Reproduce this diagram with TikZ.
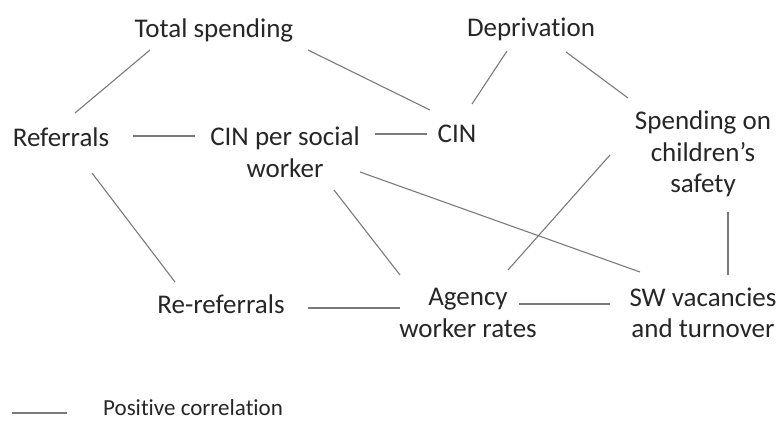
\documentclass[tikz,border=0pt]{standalone}
\usepackage{fontspec}
\setmainfont{Carlito}[Ligatures=NoCommon]
\definecolor{txt}{HTML}{262626}
\definecolor{ln}{HTML}{7A7A7A}
\begin{document}
\begin{tikzpicture}[x=1pt,y=-1pt,
  lbl/.style={inner sep=0pt,align=center,text=txt,font=\fontsize{27}{31.5}\selectfont},
  leglbl/.style={inner sep=0pt,text=txt,font=\fontsize{23}{28}\selectfont},
  conn/.style={draw=ln,line width=1.1pt}]
\useasboundingbox (0,0) rectangle (782,421);
\node[lbl] (ts) at (214,30) {Total spending};
\node[lbl] (dep) at (531,29) {Deprivation};
\node[lbl] (ref) at (61,137) {Referrals};
\node[lbl] (cps) at (285,152) {CIN per social\\worker};
\node[lbl] (cin) at (457,134) {CIN};
\node[lbl] (sp) at (703,154) {Spending on\\children’s\\safety};
\node[lbl] (reref) at (221,304) {Re-referrals};
\node[lbl] (ag) at (468,313) {Agency\\worker rates};
\node[lbl] (sw) at (703,313) {SW vacancies\\and turnover};
\node[leglbl,anchor=west] (leg) at (103,408) {Positive correlation};
\coordinate (lg1) at (12,413);
\coordinate (lg2) at (67,413);

\draw[conn] ([shift={(-64,20)}]ts.center) -- ([shift={(14,-24)}]ref.center);
\draw[conn] ([shift={(94,20)}]ts.center) -- ([shift={(-27,-24)}]cin.center);
\draw[conn] ([shift={(-24,22)}]dep.center) -- ([shift={(15,-30)}]cin.center);
\draw[conn] ([shift={(35,23)}]dep.center) -- ([shift={(-75,-56)}]sp.center);
\draw[conn] ([shift={(72,-1)}]ref.center) -- ([shift={(-90,-16)}]cps.center);
\draw[conn] ([shift={(90,-18)}]cps.center) -- ([shift={(-30,0)}]cin.center);
\draw[conn] ([shift={(31,36)}]ref.center) -- ([shift={(-46,-22)}]reref.center);
\draw[conn] ([shift={(49,38)}]cps.center) -- ([shift={(-68,-38)}]ag.center);
\draw[conn] ([shift={(75,20)}]cps.center) -- ([shift={(-63,-41)}]sw.center);
\draw[conn] ([shift={(-93,1)}]sp.center) -- ([shift={(40,-43)}]ag.center);
\draw[conn] ([shift={(25,58)}]sp.center) -- ([shift={(25,-38)}]sw.center);
\draw[conn] ([shift={(87,4)}]reref.center) -- ([shift={(-68,-5)}]ag.center);
\draw[conn] ([shift={(51,-9)}]ag.center) -- ([shift={(-93,-9)}]sw.center);
\draw[conn] (lg1) -- (lg2);
\end{tikzpicture}
\end{document}
